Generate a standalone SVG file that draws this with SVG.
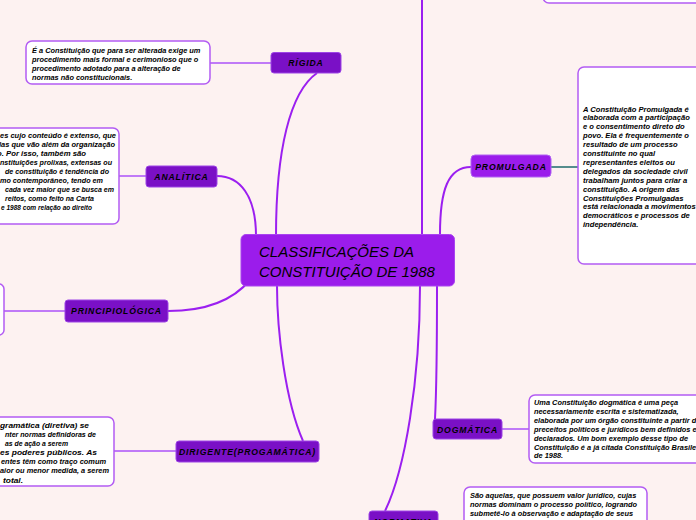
<svg xmlns="http://www.w3.org/2000/svg" width="696" height="520" viewBox="0 0 696 520">
<style>
.bg{fill:#fdf2f1}
.main{fill:#9b1ceb;stroke:#a944f0;stroke-width:1}
.topic{fill:#7a10c6;stroke:#9d45e6;stroke-width:1}
.topic2{fill:#9b1ceb;stroke:#b063f2;stroke-width:1}
.desc{fill:#ffffff;stroke:#b35cf3;stroke-width:1.5}
.conn{fill:none;stroke:#9b1ff0;stroke-width:2}
.sub{fill:none;stroke:#c07af7;stroke-width:2}
.teal{fill:none;stroke:#1d6b6b;stroke-width:1.5}
.tt{font-family:"Liberation Sans",Arial,sans-serif;font-weight:bold;font-style:italic;font-size:8.6px;letter-spacing:0.9px;fill:#000;text-anchor:middle}
.mt{font-family:"Liberation Sans",Arial,sans-serif;font-style:italic;font-size:15px;fill:#000}
.d{font-family:"Liberation Sans",Arial,sans-serif;font-weight:bold;font-style:italic;font-size:7.4px;fill:#000}
.p{font-size:7.6px}
</style>
<rect class="bg" x="0" y="0" width="696" height="520"/>

<g id="connectors">
<path class="conn" d="M422,236 L422,0"/>
<path class="conn" d="M276,236 C276,150 290,92 317,73"/>
<path class="conn" d="M256,236 C256,196 240,176 217,176"/>
<path class="conn" d="M250,280 C235,298 210,311 168,311"/>
<path class="conn" d="M277,286 C277,330 285,400 303,441"/>
<path class="conn" d="M437,286 C437,330 437,380 435,419"/>
<path class="conn" d="M420,286 C420,380 405,470 385,511"/>
<path class="conn" d="M440,234 C440,190 448,167 471,167"/>
<path class="sub" d="M210,63 L271,63"/>
<path class="sub" d="M119,176 L146,176"/>
<path class="sub" d="M4,311 L65,311"/>
<path class="sub" d="M114,451 L176,451"/>
<path class="sub" d="M502,429 L529,429"/>
<path class="teal" d="M551,167 L578,167"/>
</g>

<g id="top-box">
<rect class="desc" x="543" y="-60" width="200" height="63" rx="6"/>
</g>

<g id="center">
<rect class="main" x="241" y="234.5" width="213.5" height="51.5" rx="5"/>
<text class="mt" x="259" y="257">CLASSIFICAÇÕES DA</text>
<text class="mt" x="259" y="277">CONSTITUIÇÃO DE 1988</text>
</g>

<g id="rigida">
<rect class="topic" x="271" y="52.5" width="70" height="20.5" rx="3"/>
<text class="tt" x="306" y="66">RÍGIDA</text>
</g>
<g id="rigida-desc">
<rect class="desc" x="26" y="41" width="184" height="43" rx="6"/>
<text class="d" x="32" y="52.5">É a Constituição que para ser alterada exige um</text>
<text class="d" x="32" y="61.5">procedimento mais formal e cerimonioso que o</text>
<text class="d" x="32" y="70.5">procedimento adotado para a alteração de</text>
<text class="d" x="32" y="79.5">normas não constitucionais.</text>
</g>

<g id="analitica">
<rect class="topic" x="146" y="166" width="71" height="21" rx="3"/>
<text class="tt" x="181.5" y="179.5">ANALÍTICA</text>
</g>
<g id="analitica-desc">
<rect class="desc" x="-60" y="128" width="179" height="96" rx="6"/>
<text class="d" x="0" y="138" textLength="116" lengthAdjust="spacingAndGlyphs">es cujo conteúdo é extenso, que</text>
<text class="d" x="-1" y="147" textLength="116" lengthAdjust="spacingAndGlyphs">las que vão além da organização</text>
<text class="d" x="-3" y="156" textLength="89" lengthAdjust="spacingAndGlyphs">o. Por isso, também são</text>
<text class="d" x="0" y="165" textLength="112" lengthAdjust="spacingAndGlyphs">nstituições prolixas, extensas ou</text>
<text class="d" x="5" y="174" textLength="104" lengthAdjust="spacingAndGlyphs">de constituição é tendência do</text>
<text class="d" x="0" y="183" textLength="103" lengthAdjust="spacingAndGlyphs">mo contemporâneo, tendo em</text>
<text class="d" x="5" y="192" textLength="109" lengthAdjust="spacingAndGlyphs">cada vez maior que se busca em</text>
<text class="d" x="5" y="201" textLength="89" lengthAdjust="spacingAndGlyphs">reitos, como feito na Carta</text>
<text class="d" x="1" y="210" textLength="91" lengthAdjust="spacingAndGlyphs">e 1988 com relação ao direito</text>
</g>

<g id="principiologica">
<rect class="topic" x="65" y="300" width="103" height="22" rx="3"/>
<text class="tt" x="116.5" y="314">PRINCIPIOLÓGICA</text>
</g>
<g id="principiologica-desc">
<rect class="desc" x="-60" y="284" width="64" height="51" rx="5"/>
</g>

<g id="dirigente">
<rect class="topic" x="176" y="441" width="143" height="21" rx="3"/>
<text class="tt" x="247.5" y="455">DIRIGENTE(PROGAMÁTICA)</text>
</g>
<g id="dirigente-desc">
<rect class="desc" x="-60" y="417" width="174" height="69" rx="6"/>
<text class="d" x="0" y="427.5" textLength="89" lengthAdjust="spacingAndGlyphs">gramática (diretiva) se</text>
<text class="d" x="5" y="436.7" textLength="91" lengthAdjust="spacingAndGlyphs">nter normas definidoras de</text>
<text class="d" x="5" y="445.8" textLength="63" lengthAdjust="spacingAndGlyphs">as de ação a serem</text>
<text class="d" x="0" y="455" textLength="97" lengthAdjust="spacingAndGlyphs">es poderes públicos. As</text>
<text class="d" x="1" y="464.2" textLength="105" lengthAdjust="spacingAndGlyphs">entes têm como traço comum</text>
<text class="d" x="0" y="473.3" textLength="109" lengthAdjust="spacingAndGlyphs">aior ou menor medida, a serem</text>
<text class="d" x="3" y="482.5" textLength="20" lengthAdjust="spacingAndGlyphs">total.</text>
</g>

<g id="promulgada">
<rect class="topic2" x="471" y="155" width="80" height="22" rx="4"/>
<text class="tt" x="511" y="169.5">PROMULGADA</text>
</g>
<g id="promulgada-desc">
<rect class="desc" x="578" y="67" width="140" height="197" rx="6"/>
<text class="d p" x="583" y="111.5">A Constituição Promulgada é</text>
<text class="d p" x="583" y="120.4">elaborada com a participação</text>
<text class="d p" x="583" y="129.3">e o consentimento direto do</text>
<text class="d p" x="583" y="138.2">povo. Ela é frequentemente o</text>
<text class="d p" x="583" y="147.1">resultado de um processo</text>
<text class="d p" x="583" y="156">constituinte no qual</text>
<text class="d p" x="583" y="164.9">representantes eleitos ou</text>
<text class="d p" x="583" y="173.8">delegados da sociedade civil</text>
<text class="d p" x="583" y="182.7">trabalham juntos para criar a</text>
<text class="d p" x="583" y="191.6">constituição. A origem das</text>
<text class="d p" x="583" y="200.5">Constituições Promulgadas</text>
<text class="d p" x="583" y="209.4">está relacionada a movimentos</text>
<text class="d p" x="583" y="218.3">democráticos e processos de</text>
<text class="d p" x="583" y="227.2">independência.</text>
</g>

<g id="dogmatica">
<rect class="topic" x="433" y="419" width="69" height="20" rx="3"/>
<text class="tt" x="467.5" y="432.5">DOGMÁTICA</text>
</g>
<g id="dogmatica-desc">
<rect class="desc" x="529" y="395" width="200" height="68" rx="6"/>
<text class="d" x="534" y="405">Uma Constituição dogmática é uma peça</text>
<text class="d" x="534" y="413.9">necessariamente escrita e sistematizada,</text>
<text class="d" x="534" y="422.8">elaborada por um órgão constituinte a partir de</text>
<text class="d" x="534" y="431.7">preceitos políticos e jurídicos bem definidos e</text>
<text class="d" x="534" y="440.6">declarados. Um bom exemplo desse tipo de</text>
<text class="d" x="534" y="449.5">Constituição é a já citada Constituição Brasileira</text>
<text class="d" x="534" y="458.4">de 1988.</text>
</g>

<g id="normativa">
<rect class="topic" x="369" y="511" width="69" height="21" rx="3"/>
<text class="tt" x="403.5" y="525">NORMATIVA</text>
</g>
<g id="normativa-desc">
<rect class="desc" x="464" y="487" width="183" height="60" rx="6"/>
<text class="d" x="470" y="497.5">São aquelas, que possuem valor jurídico, cujas</text>
<text class="d" x="470" y="506.5">normas dominam o processo político, logrando</text>
<text class="d" x="470" y="515.5">submetê-lo à observação e adaptação de seus</text>
</g>
</svg>
